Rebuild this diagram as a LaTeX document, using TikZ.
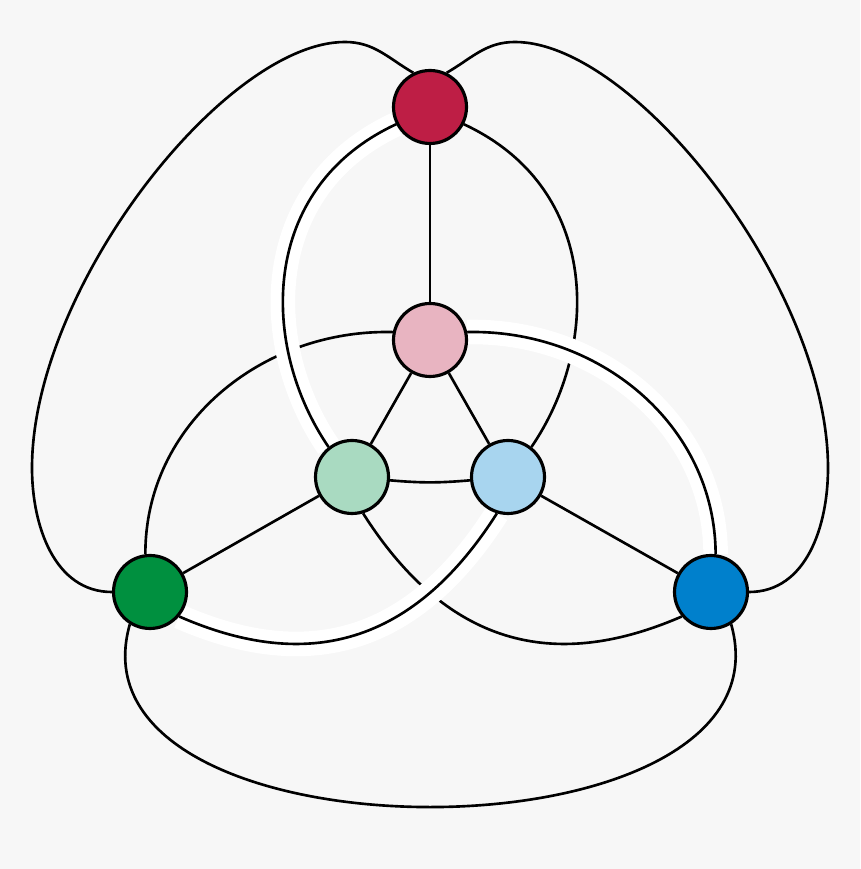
\documentclass[tikz,border=0pt]{standalone}

\definecolor{bgcol}{HTML}{F7F7F7}
\definecolor{cRed}{HTML}{BE1E45}
\definecolor{cPink}{HTML}{E8B4C1}
\definecolor{cMint}{HTML}{A9DAC1}
\definecolor{cSky}{HTML}{A8D5EF}
\definecolor{cGreen}{HTML}{00903F}
\definecolor{cBlue}{HTML}{0080CC}

\pgfdeclarelayer{back}
\pgfdeclarelayer{edges}
\pgfsetlayers{back,edges,main}

\begin{document}
\begin{tikzpicture}[x=0.02cm,y=0.02cm,
    vertex/.style={circle,draw=black,line width=1.8pt,minimum size=1.46cm,inner sep=0pt},
    edge/.style={black,line width=1.5pt},
    halo/.style={white,line width=14pt}]
        \useasboundingbox (0,0) rectangle (860,869);

        % Draw the six vertices
        \node[vertex,fill=cRed]   (red)   at (430,762) {};
        \node[vertex,fill=cPink]  (pink)  at (430,529) {};
        \node[vertex,fill=cMint]  (mint)  at (352,392) {};
        \node[vertex,fill=cSky]   (sky)   at (508,392) {};
        \node[vertex,fill=cGreen] (green) at (150,277) {};
        \node[vertex,fill=cBlue]  (blue)  at (711,277) {};

        % Background
        \begin{pgfonlayer}{back}
            \fill[bgcol] (0,0) rectangle (860,869);
        \end{pgfonlayer}

        \begin{pgfonlayer}{edges}
            % Draw the arcs that pass underneath
            \draw[edge] (red.333) .. controls (602,680.5) and (600,522) .. (sky.52);
            \draw[edge] (pink.168) .. controls (262,540) and (145,445) .. (green.97);
            \draw[edge] (blue.220) .. controls (561,200) and (451.4,216.7) .. (mint.287);

            % Draw the white halos, then the arcs on top
            \foreach \c in {halo,edge} {
                \draw[\c] (red.207) .. controls (258,680.5) and (260,522) .. (mint.128);
                \draw[\c] (pink.12) .. controls (598,540) and (715,445) .. (blue.83);
                \draw[\c] (green.320) .. controls (299,200) and (408.6,216.7) .. (sky.253);
            }

            % Draw the outer loops
            \draw[edge] (red.116) to[out=150,in=0] (345,827)
                .. controls (225,827) and (32,581) .. (32,401) to[out=270,in=180] (green.180);
            \draw[edge] (red.64) to[out=30,in=180] (515,827)
                .. controls (635,827) and (828,581) .. (828,401) to[out=270,in=0] (blue.0);
            \draw[edge] (green.238) .. controls (60,1) and (800,1) .. (blue.302);

            % Draw the straight spokes
            \foreach \a/\b in {red/pink,pink/mint,pink/sky,mint/green,sky/blue} {
                \draw[edge] (\a) -- (\b);
            }
            \draw[edge] (mint.355) to[bend right=5] (sky.185);
        \end{pgfonlayer}

    \end{tikzpicture}
\end{document}
